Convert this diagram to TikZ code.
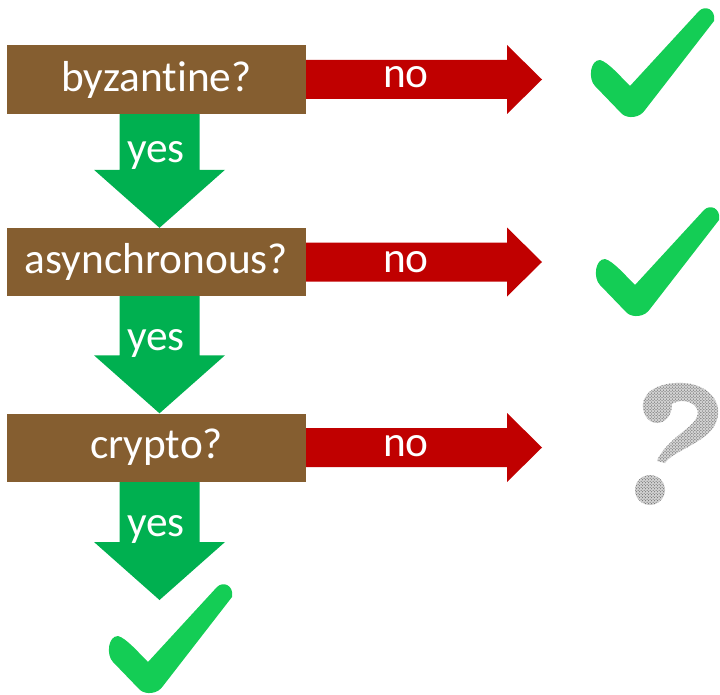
\documentclass[tikz,border=0pt]{standalone}
\usepackage{fontspec}
\setmainfont[Ligatures=NoCommon]{Carlito}
\usetikzlibrary{calc,patterns}
\definecolor{qbrown}{RGB}{133,94,48}
\definecolor{noRed}{RGB}{192,0,0}
\definecolor{yesGreen}{RGB}{0,176,80}
\definecolor{tickGreen}{RGB}{20,205,85}

\begin{document}
\begin{tikzpicture}[x=1bp,y=-1bp,
  question/.style={fill=qbrown, text=white, minimum width=299bp, minimum height=68bp,
    inner sep=0pt, font=\fontsize{43.5}{50}\selectfont},
  arrowtext/.style={text=white, font=\fontsize{43.5}{50}\selectfont, anchor=base, inner sep=0pt},
  tick/.pic={
    \fill[tickGreen] (-30,-26) .. controls (-22,-24) and (-10,-10) .. (0,0)
      -- (69,-75) .. controls (75,-81) and (86,-77) .. (84,-65)
      -- (15,24) .. controls (10,32) and (-2,33) .. (-8,28)
      -- (-35,0) .. controls (-42,-7) and (-40,-26) .. (-30,-26) -- cycle;
  },
  qmark/.pic={
    \path[fill=gray!35] (657,423) .. controls (647,423) and (642,412) .. (643,404)
      .. controls (645,388) and (665,382) .. (683,383)
      .. controls (705,384) and (720,398) .. (718,415)
      .. controls (716,432) and (700,440) .. (688,447)
      .. controls (677,453) and (668,458) .. (665,463)
      -- (657,461)
      .. controls (660,452) and (672,440) .. (685,430)
      .. controls (697,421) and (702,412) .. (694,405)
      .. controls (688,400) and (678,400) .. (672,404)
      .. controls (672,416) and (665,423) .. (657,423) -- cycle;
    \path[pattern=crosshatch dots, pattern color=black!70] (657,423) .. controls (647,423) and (642,412) .. (643,404)
      .. controls (645,388) and (665,382) .. (683,383)
      .. controls (705,384) and (720,398) .. (718,415)
      .. controls (716,432) and (700,440) .. (688,447)
      .. controls (677,453) and (668,458) .. (665,463)
      -- (657,461)
      .. controls (660,452) and (672,440) .. (685,430)
      .. controls (697,421) and (702,412) .. (694,405)
      .. controls (688,400) and (678,400) .. (672,404)
      .. controls (672,416) and (665,423) .. (657,423) -- cycle;
    \fill[gray!35] (650,490) circle[radius=15];
    \path[pattern=crosshatch dots, pattern color=black!70] (650,490) circle[radius=15];
  }]
\useasboundingbox (0,0) rectangle (720,695);

% decision boxes
\node[question] (b1) at (156.5,79.5) {};
\node[question] (b2) at (156.5,262) {};
\node[question] (b3) at (156.5,447.5) {};

% free ends of the arrows
\coordinate (t1) at (542,79.5);
\coordinate (t2) at (542,262);
\coordinate (t3) at (542,447.5);
\coordinate (y1) at ($(b1.south)+(3,0)$);
\coordinate (y2) at ($(b2.south)+(3,0)$);
\coordinate (y3) at ($(b3.south)+(3,0)$);
\coordinate (e1) at ($(b2.north)+(3,0)$);
\coordinate (e2) at ($(b3.north)+(3,0)$);
\coordinate (e3) at (159.5,600);

% "no" arrows to the right
\foreach \b/\t in {b1/t1,b2/t2,b3/t3}{
  \fill[noRed] ($(\b.east)+(-1,-19.5)$) -- ($(\t)+(-35,-19.5)$) -- ($(\t)+(-35,-34.5)$)
    -- (\t) -- ($(\t)+(-35,34.5)$) -- ($(\t)+(-35,19.5)$) -- ($(\b.east)+(-1,19.5)$) -- cycle;
}

% "yes" arrows downwards
\foreach \s/\e in {y1/e1,y2/e2,y3/e3}{
  \fill[yesGreen] ($(\s)+(-40,-1)$) -- ($(\s)+(40,-1)$) -- ($(\e)+(40,-58)$) -- ($(\e)+(65.5,-58)$)
    -- (\e) -- ($(\e)+(-65.5,-58)$) -- ($(\e)+(-40,-58)$) -- cycle;
}

% boxes on top of the arrow stems
\node[question] at (b1) {byzantine?};
\node[question] at (b2) {asynchronous?};
\node[question] at (b3) {crypto?};

% arrow labels
\node[arrowtext] (n1) at (406,88) {no};
\node[arrowtext] (n2) at (406,272) {no};
\node[arrowtext] (n3) at (406,456) {no};
\node[arrowtext] (s1) at (156,162) {yes};
\node[arrowtext] (s2) at (156,350) {yes};
\node[arrowtext] (s3) at (156,536) {yes};

% outcomes
\pic at (630,86) {tick};
\pic at (635,285) {tick};
\pic at (148,662) {tick};
\pic at (0,0) {qmark};
\end{tikzpicture}
\end{document}
